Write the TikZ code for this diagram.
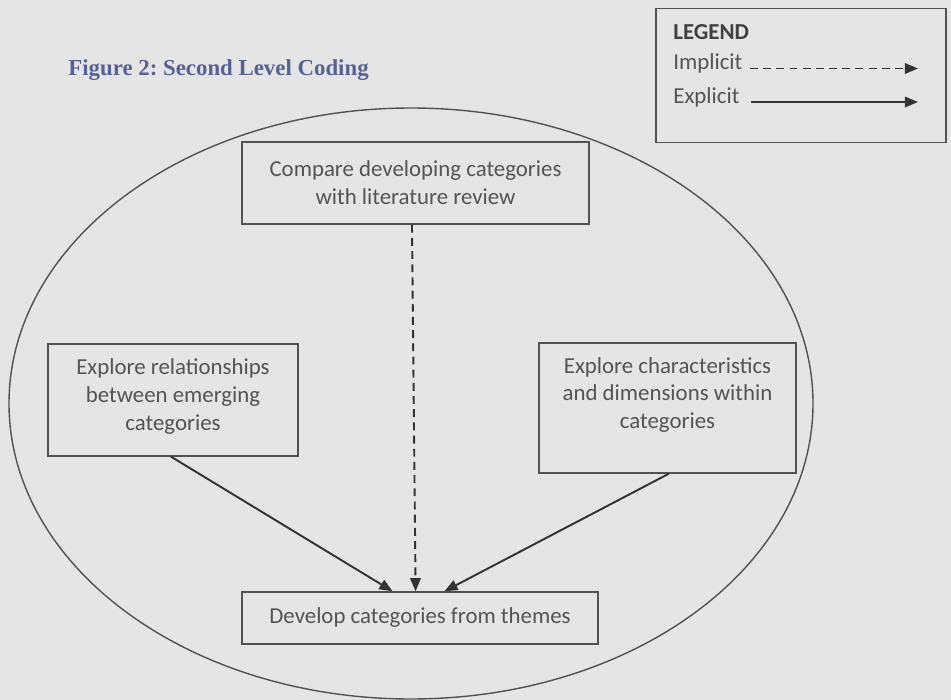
\documentclass[tikz,border=0pt]{standalone}
\usepackage{fontspec}
\setmainfont{Carlito}
\newfontfamily\titlefont{Liberation Serif}
\usetikzlibrary{arrows.meta}
\definecolor{paper}{RGB}{229,229,229}
\definecolor{inkgray}{RGB}{84,84,84}
\definecolor{linegray}{RGB}{82,82,82}
\definecolor{titleblue}{RGB}{86,98,150}
\frenchspacing

\begin{document}
\begin{tikzpicture}[scale=0.2]
        \tikzstyle{every node}+=[inner sep=0pt]
        \tikzstyle{box}=[draw=linegray, line width=0.8pt, align=center, text=inkgray, font=\fontsize{13}{15.9}\selectfont]
        \tikzstyle{legendtext}=[anchor=west, text=inkgray, font=\fontsize{13}{15.9}\selectfont]
        \tikzstyle{explicit}=[draw=black!80, line width=1.1pt, -{Triangle[length=7.5pt,width=6pt]}]
        \tikzstyle{implicit}=[explicit, dash pattern=on 4.5pt off 3pt]
        \useasboundingbox (0,0) rectangle (95.1,-70);
        \fill [paper] (0,0) rectangle (95.1,-70);
        \draw [linegray, line width=0.8pt] (41.1,-40.35) ellipse (40.2 and 29.55);
        \node [anchor=west, text=titleblue, font=\titlefont\bfseries\fontsize{13}{15.6}\selectfont] (title) at (6.8,-7) {Figure 2: Second Level Coding};
        \node [draw=linegray, line width=0.8pt, minimum width=165pt, minimum height=76.3pt] (legend) at (80.1,-7.55) {};
        \node [legendtext, font=\bfseries\fontsize{13}{15.9}\selectfont, text=black!75] (legendtitle) at (67.3,-3.2) {LEGEND};
        \node [legendtext] (impl) at (67.3,-6.3) {Implicit};
        \node [legendtext] (expl) at (67.3,-9.7) {Explicit};
        \coordinate (impltail) at (75,-6.85);
        \coordinate (implhead) at (91.8,-6.85);
        \coordinate (expltail) at (75.1,-10.2);
        \coordinate (explhead) at (91.8,-10.2);
        \draw [implicit] (impltail) -- (implhead);
        \draw [explicit] (expltail) -- (explhead);
        \node [box, minimum width=197.5pt, minimum height=46.7pt] (compare) at (41.55,-18.3) {Compare developing categories\\with literature review};
        \node [box, minimum width=142.3pt, minimum height=63.7pt] (relations) at (17.3,-40) {Explore relationships\\between emerging\\categories\rule[-6.6pt]{0pt}{0pt}};
        \node [box, minimum width=146.2pt, minimum height=74pt] (traits) at (66.75,-40.8) {Explore characteristics\\and dimensions within\\categories\rule[-17pt]{0pt}{0pt}};
        \node [box, minimum width=202.6pt, minimum height=29.6pt] (develop) at (42,-61.8) {Develop categories from themes};
        \draw [implicit] ([xshift=-10pt]compare.south) -- ([xshift=-12.5pt]develop.north);
        \draw [explicit] ([xshift=-5.7pt]relations.south) -- ([xshift=-78pt]develop.north);
        \draw [explicit] ([xshift=3.7pt]traits.south) -- ([xshift=69.4pt]develop.north);
        \end{tikzpicture}
\end{document}
